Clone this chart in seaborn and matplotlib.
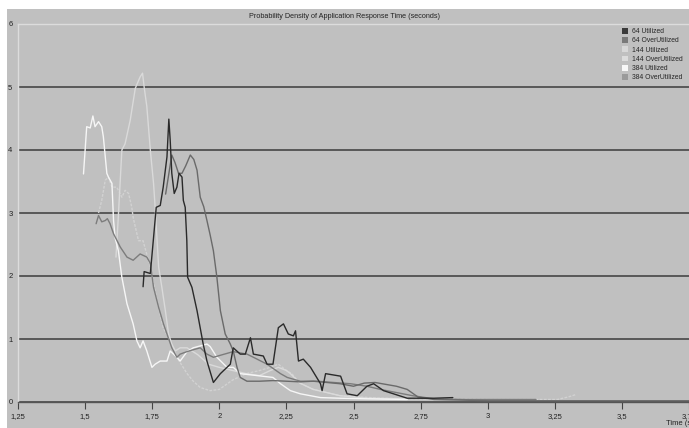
import matplotlib
matplotlib.use('Agg')
import matplotlib.pyplot as plt
from matplotlib.patches import Patch, Rectangle
from matplotlib.ticker import FuncFormatter, MultipleLocator
import pandas as pd
import seaborn as sns

# series (time in seconds, density)
u64_x = [1.716, 1.72, 1.743, 1.754, 1.765, 1.78, 1.791, 1.805, 1.812, 1.817, 1.823, 1.832, 1.842,
         1.85, 1.861, 1.866, 1.873, 1.879, 1.882, 1.898, 1.917, 1.94, 1.954, 1.978, 2.004, 2.041,
         2.052, 2.078, 2.097, 2.116, 2.127, 2.164, 2.178, 2.2, 2.22, 2.239, 2.257, 2.276, 2.284,
         2.295, 2.313, 2.34, 2.377, 2.383, 2.396, 2.452, 2.476, 2.514, 2.55, 2.575, 2.612, 2.649,
         2.7, 2.8, 2.87]
u64_y = [1.83, 2.07, 2.04, 2.56, 3.09, 3.12, 3.41, 3.89, 4.49, 4.16, 3.63, 3.31, 3.41,
         3.63, 3.57, 3.2, 3.09, 2.56, 1.98, 1.82, 1.45, 0.92, 0.65, 0.31, 0.45, 0.6,
         0.86, 0.76, 0.76, 1.02, 0.76, 0.73, 0.6, 0.6, 1.18, 1.24, 1.08, 1.05, 1.13,
         0.65, 0.68, 0.55, 0.29, 0.18, 0.45, 0.41, 0.13, 0.1, 0.25, 0.29, 0.18, 0.13,
         0.06, 0.06, 0.07]

o64_x = [1.80, 1.823, 1.835, 1.848, 1.861, 1.875, 1.892, 1.905, 1.917, 1.929, 1.942, 1.954, 1.966,
         1.978, 1.991, 2.004, 2.022, 2.041, 2.052, 2.066, 2.078, 2.103, 2.15, 2.2, 2.25, 2.3, 2.35,
         2.4, 2.45, 2.5, 2.54, 2.58, 2.62, 2.66, 2.7, 2.74, 2.8, 2.9, 3.0, 3.2, 3.5, 3.75]
o64_y = [3.3, 3.92, 3.8, 3.63, 3.63, 3.75, 3.92, 3.85, 3.68, 3.25, 3.1, 2.88, 2.65,
         2.4, 1.98, 1.45, 1.08, 0.92, 0.81, 0.55, 0.39, 0.33, 0.33, 0.34, 0.33, 0.32, 0.33,
         0.31, 0.29, 0.25, 0.3, 0.31, 0.28, 0.25, 0.2, 0.08, 0.04, 0.03, 0.02, 0.02, 0.02, 0.02]

u144_x = [1.615, 1.623, 1.637, 1.649, 1.668, 1.687, 1.705, 1.714, 1.72, 1.73, 1.743, 1.755, 1.761,
          1.774, 1.786, 1.799, 1.811, 1.823, 1.836, 1.854, 1.88, 1.92, 1.96, 2.0, 2.05, 2.1, 2.15,
          2.19, 2.22, 2.25, 2.265, 2.3, 2.35, 2.45, 2.55, 2.7]
u144_y = [2.3, 2.88, 4.0, 4.1, 4.47, 4.98, 5.16, 5.22, 5.0, 4.69, 4.0, 3.47, 3.09,
          2.14, 1.82, 1.45, 1.08, 0.92, 0.81, 0.86, 0.86, 0.75, 0.6, 0.55, 0.5, 0.45, 0.42,
          0.5, 0.55, 0.5, 0.45, 0.3, 0.2, 0.1, 0.06, 0.05]

o144_x = [1.55, 1.562, 1.575, 1.587, 1.6, 1.618, 1.637, 1.649, 1.662, 1.674, 1.679, 1.693, 1.699,
          1.716, 1.743, 1.768, 1.791, 1.817, 1.842, 1.88, 1.903, 1.929, 1.966, 2.0, 2.05, 2.1,
          2.15, 2.19, 2.22, 2.25, 2.27, 2.3, 2.35, 2.45, 2.6, 2.8, 3.0, 3.26, 3.3, 3.33]
o144_y = [3.0, 3.2, 3.52, 3.57, 3.41, 3.41, 3.25, 3.36, 3.31, 3.09, 2.93, 2.67, 2.56,
          2.56, 2.14, 1.61, 1.18, 0.97, 0.71, 0.45, 0.33, 0.23, 0.18, 0.2, 0.35, 0.45,
          0.5, 0.55, 0.6, 0.5, 0.45, 0.3, 0.2, 0.1, 0.06, 0.05, 0.04, 0.04, 0.08, 0.12]

u384_x = [1.494, 1.506, 1.519, 1.529, 1.537, 1.55, 1.562, 1.568, 1.581, 1.587, 1.6, 1.606, 1.612,
          1.624, 1.637, 1.656, 1.679, 1.693, 1.705, 1.716, 1.73, 1.749, 1.761, 1.78, 1.805, 1.817,
          1.842, 1.854, 1.88, 1.903, 1.929, 1.954, 1.966, 1.991, 2.029, 2.052, 2.078, 2.2, 2.228,
          2.265, 2.302, 2.377, 2.45, 2.55, 2.7]
u384_y = [3.62, 4.37, 4.35, 4.54, 4.37, 4.45, 4.37, 4.21, 3.63, 3.57, 3.47, 2.88, 2.6,
          2.4, 1.98, 1.56, 1.24, 0.97, 0.86, 0.97, 0.81, 0.55, 0.6, 0.65, 0.65, 0.81,
          0.71, 0.65, 0.8, 0.86, 0.89, 0.92, 0.88, 0.71, 0.55, 0.55, 0.45, 0.39, 0.29,
          0.18, 0.13, 0.07, 0.06, 0.05, 0.04]

o384_x = [1.541, 1.55, 1.562, 1.575, 1.583, 1.593, 1.606, 1.612, 1.631, 1.656, 1.679, 1.705, 1.73,
          1.743, 1.755, 1.774, 1.792, 1.805, 1.823, 1.842, 1.854, 1.88, 1.903, 1.929, 1.954, 1.978,
          2.052, 2.103, 2.127, 2.178, 2.228, 2.253, 2.302, 2.365, 2.425, 2.489, 2.55, 2.6, 2.72,
          2.8, 2.92, 3.18]
o384_y = [2.83, 2.96, 2.86, 2.88, 2.91, 2.83, 2.67, 2.62, 2.46, 2.3, 2.25, 2.35, 2.3,
          2.2, 1.82, 1.5, 1.24, 1.08, 0.86, 0.71, 0.76, 0.8, 0.83, 0.86, 0.76, 0.71,
          0.8, 0.76, 0.71, 0.6, 0.45, 0.39, 0.33, 0.33, 0.31, 0.29, 0.25, 0.2, 0.1,
          0.05, 0.04, 0.04]

series_names = ['64 Utilized', '64 OverUtilized', '144 Utilized',
                '144 OverUtilized', '384 Utilized', '384 OverUtilized']
series_x = [u64_x, o64_x, u144_x, o144_x, u384_x, o384_x]
series_y = [u64_y, o64_y, u144_y, o144_y, u384_y, o384_y]

line_colors = {'64 Utilized': '#2a2a2a', '64 OverUtilized': '#6a6a6a', '144 Utilized': '#dadada',
               '144 OverUtilized': '#d2d2d2', '384 Utilized': '#f6f6f6', '384 OverUtilized': '#7c7c7c'}
legend_colors = {'64 Utilized': '#3a3a3a', '64 OverUtilized': '#7a7a7a', '144 Utilized': '#d8d8d8',
                 '144 OverUtilized': '#dcdcdc', '384 Utilized': '#f8f8f8', '384 OverUtilized': '#9a9a9a'}
draw_order = ['144 OverUtilized', '144 Utilized', '384 Utilized',
              '384 OverUtilized', '64 OverUtilized', '64 Utilized']

BG = '#c0c0c0'

frames = []
for name, xs, ys in zip(series_names, series_x, series_y):
    frames.append(pd.DataFrame({'Time': xs, 'Density': ys, 'Series': name}))
df = pd.concat(frames, ignore_index=True)

sns.set_style('white', {'axes.facecolor': BG, 'figure.facecolor': BG})
plt.rcParams['font.family'] = ['Liberation Sans Narrow', 'Liberation Sans', 'DejaVu Sans']

fig = plt.figure(figsize=(6.89, 4.28), dpi=100, facecolor=BG)
# white screenshot border at top and left
fig.add_artist(Rectangle((0, 1 - 9 / 428), 1, 9 / 428, transform=fig.transFigure,
                         facecolor='white', edgecolor='none', zorder=-1))
fig.add_artist(Rectangle((0, 0), 7 / 689, 1, transform=fig.transFigure,
                         facecolor='white', edgecolor='none', zorder=-1))

ax = fig.add_axes([18 / 689, 26 / 428, 671 / 689, 378 / 428])
ax.set_facecolor(BG)

dashes = {name: '' for name in series_names}
dashes['144 OverUtilized'] = (2, 1)
sns.lineplot(data=df, x='Time', y='Density', hue='Series', hue_order=draw_order,
             style='Series', style_order=draw_order, dashes=dashes,
             palette=line_colors, estimator=None, sort=False, linewidth=1.0,
             legend=False, ax=ax)

ax.set_xlim(1.25, 3.75)
ax.set_ylim(0, 6)
ax.xaxis.set_major_locator(MultipleLocator(0.25))
ax.xaxis.set_major_formatter(FuncFormatter(lambda v, p: f'{v:g}'.replace('.', ',')))
ax.set_yticks(range(7))
ax.set_xlabel('')
ax.set_ylabel('')

ax.yaxis.grid(True, color='#3c3c3c', linewidth=1.1)
ax.yaxis.get_gridlines()[-1].set_visible(False)
ax.xaxis.grid(False)

ax.tick_params(axis='y', length=0, pad=4, labelsize=5.5, labelcolor='#222222')
ax.tick_params(axis='x', length=5, width=0.8, color='#444444', direction='out',
               pad=3, labelsize=5.5, labelcolor='#222222', bottom=True)

for side in ['left', 'top']:
    ax.spines[side].set_color('#dcdcdc')
    ax.spines[side].set_linewidth(1.0)
ax.spines['bottom'].set_color('#555555')
ax.spines['bottom'].set_linewidth(1.0)
ax.spines['right'].set_visible(False)

fig.text(0.5, 1 - 16 / 428, 'Probability Density of Application Response Time (seconds)',
         ha='center', va='center', fontsize=5.2, color='#222222')
fig.text(666 / 689, 1 / 428, 'Time (seconds)', ha='left', va='bottom',
         fontsize=5.5, color='#222222')

handles = [Patch(facecolor=legend_colors[n], edgecolor='none', label=n) for n in series_names]
fig.legend(handles=handles, loc='upper left', bbox_to_anchor=(622 / 689, 1 - 28 / 428),
           frameon=False, fontsize=4.9, handlelength=0.9, handleheight=0.9,
           handletextpad=0.5, labelspacing=0.3, borderpad=0, borderaxespad=0)

fig.savefig('out.png', dpi=100, facecolor=fig.get_facecolor())
